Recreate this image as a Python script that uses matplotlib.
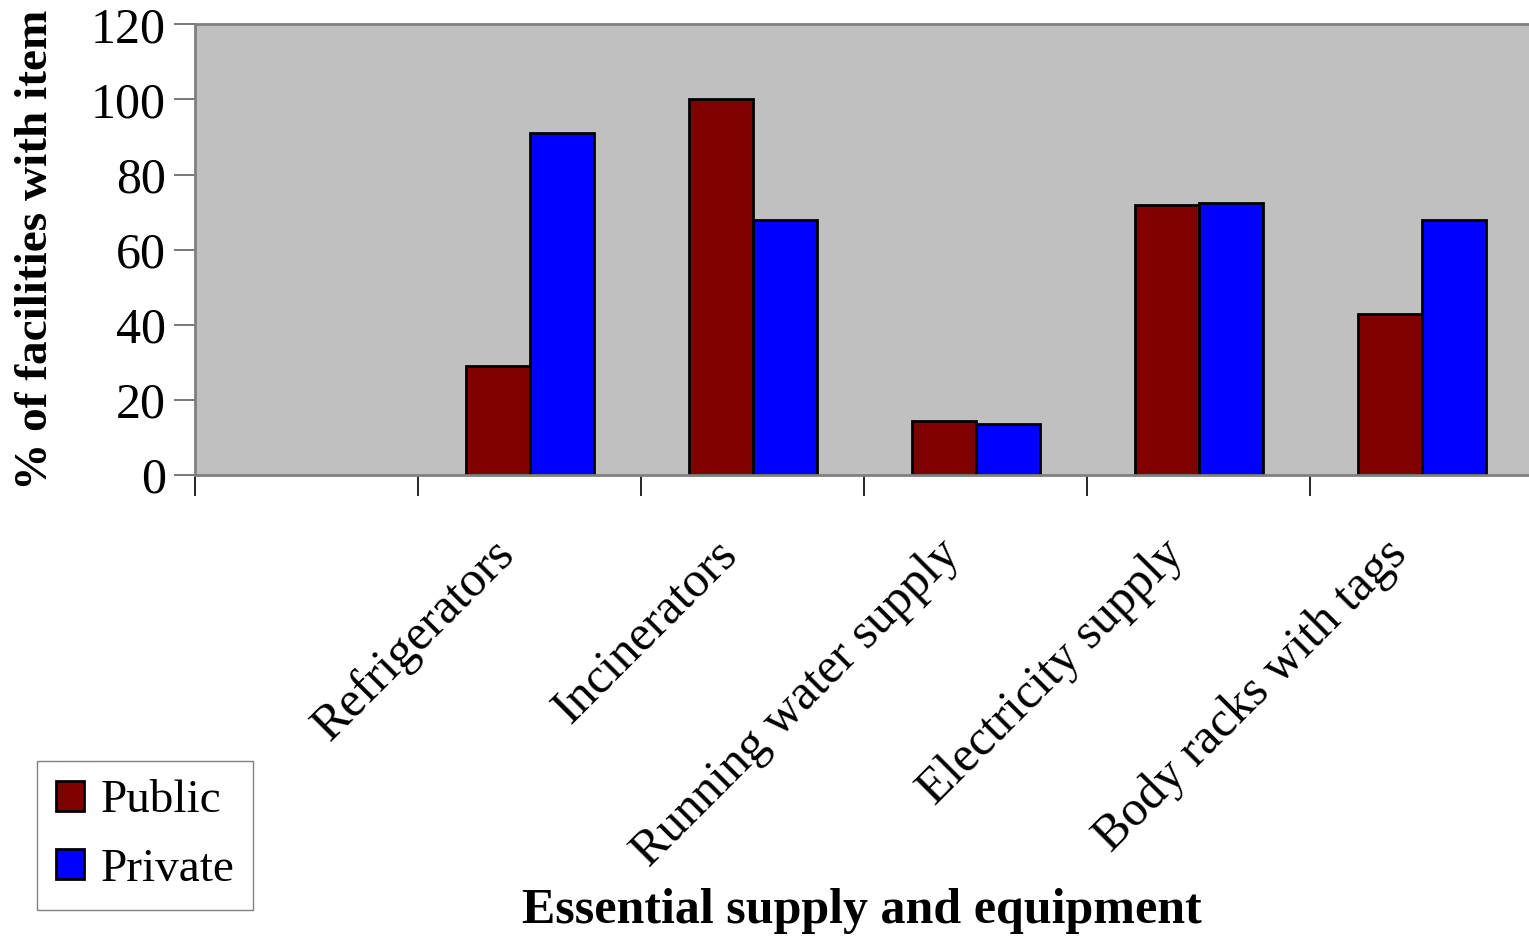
import matplotlib.pyplot as plt
from matplotlib.transforms import ScaledTranslation
import numpy as np

categorias = ["Refrigerators", "Incinerators", "Running water supply",
              "Electricity supply", "Body racks with tags"]
publico = [29, 100, 14.5, 72, 43]
privado = [91, 68, 13.5, 72.5, 68]

plt.rcParams['font.family'] = ['Liberation Serif', 'DejaVu Serif']

fig = plt.figure(figsize=(15.29, 9.36), dpi=100)
ax = fig.add_axes([0.1275, 0.4925, 0.8755, 0.4815])
ax.set_facecolor('#C0C0C0')

# el primer hueco de categoria queda vacio
x = np.arange(1, len(categorias) + 1)
ancho = 0.287
ax.bar(x - ancho / 2, publico, ancho, color='#800000', edgecolor='black',
       linewidth=2, label='Public')
ax.bar(x + ancho / 2, privado, ancho, color='#0000FF', edgecolor='black',
       linewidth=2, label='Private')

ax.set_xlim(-0.5, 5.5)
ax.set_ylim(0, 120)
ax.set_yticks(range(0, 121, 20))
ax.tick_params(axis='y', labelsize=36, length=15, width=1.2, color='#606060', pad=6)

ax.set_xticks(x)
ax.set_xticklabels(categorias, rotation=45, ha='right', rotation_mode='anchor', fontsize=36)
ax.tick_params(axis='x', which='major', length=0, pad=40)
ax.set_xticks(np.arange(-0.5, 5.5, 1), minor=True)
ax.tick_params(axis='x', which='minor', length=15, width=1.2, color='black')

# correr las etiquetas un poco a la izquierda
desplaza = ScaledTranslation(-0.39, 0, fig.dpi_scale_trans)
for etiqueta in ax.get_xticklabels():
    etiqueta.set_transform(etiqueta.get_transform() + desplaza)

for lado in ['left', 'bottom', 'top']:
    ax.spines[lado].set_color('#808080')
    ax.spines[lado].set_linewidth(2)
ax.spines['right'].set_visible(False)

ax.set_ylabel('% of facilities with item', fontsize=34, fontweight='bold', labelpad=24)
fig.text(0.564, 0.002, 'Essential supply and equipment', fontsize=36,
         fontweight='bold', ha='center', va='bottom')

fig.legend(loc='lower left', bbox_to_anchor=(0.024, 0.028), fontsize=34,
           frameon=True, fancybox=False, edgecolor='#606060', handlelength=0.6,
           handleheight=0.6, handletextpad=0.35, labelspacing=0.55,
           borderpad=0.4, borderaxespad=0)

fig.savefig('out.png', dpi=100)
